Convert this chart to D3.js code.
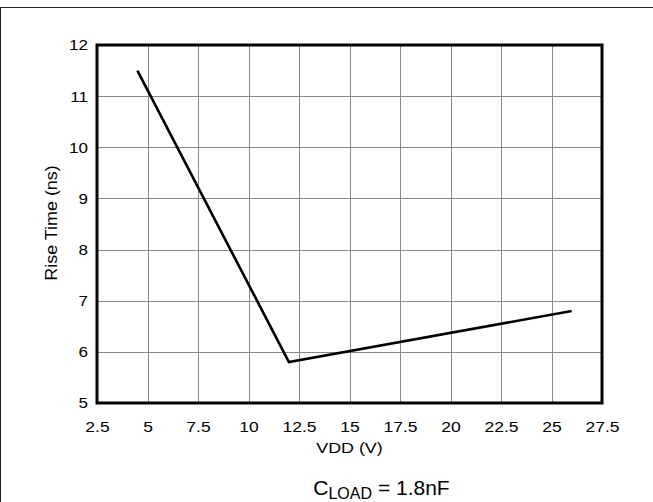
<!DOCTYPE html>
<html>
<head>
<meta charset="utf-8">
<script src="https://cdn.jsdelivr.net/npm/d3@7"></script>
<style>
  html, body { margin: 0; padding: 0; background: #fff; }
  svg { display: block; font-family: "Liberation Sans", Arial, sans-serif; }
</style>
</head>
<body>
<svg id="chart" width="653" height="502"></svg>
<script>
// Rise time versus supply voltage
const vdd = [4.5, 12, 26];
const riseTime = [11.5, 5.8, 6.8];
const xTicks = [2.5, 5, 7.5, 10, 12.5, 15, 17.5, 20, 22.5, 25, 27.5];
const yTicks = [5, 6, 7, 8, 9, 10, 11, 12];

const svg = d3.select("#chart");
const m = { left: 97, right: 602, top: 45, bottom: 403 };
const FONT = "Liberation Sans, Arial, sans-serif";

const x = d3.scaleLinear().domain([2.5, 27.5]).range([m.left, m.right]);
const y = d3.scaleLinear().domain([5, 12]).range([m.bottom, m.top]);

// widen labels a little, keeping glyph height
function widen(sel, k) {
  sel.each(function () {
    const w = this.getComputedTextLength();
    d3.select(this).attr("textLength", w * k).attr("lengthAdjust", "spacingAndGlyphs");
  });
}

// page frame
svg.append("line").attr("x1", 0).attr("x2", 653).attr("y1", 7.5).attr("y2", 7.5)
  .attr("stroke", "#222").attr("stroke-width", 1);
svg.append("line").attr("x1", 0.5).attr("x2", 0.5).attr("y1", 7).attr("y2", 502)
  .attr("stroke", "#222").attr("stroke-width", 1);

// grid
const grid = svg.append("g").attr("stroke", "#8a8a8a").attr("stroke-width", 1);
grid.selectAll(".vx").data(xTicks).join("line")
  .attr("x1", d => Math.round(x(d)) + 0.5).attr("x2", d => Math.round(x(d)) + 0.5)
  .attr("y1", m.top).attr("y2", m.bottom);
grid.selectAll(".hy").data(yTicks).join("line")
  .attr("y1", d => Math.round(y(d)) + 0.5).attr("y2", d => Math.round(y(d)) + 0.5)
  .attr("x1", m.left).attr("x2", m.right);

// axes (labels only)
const xAxis = svg.append("g").attr("transform", `translate(0,${m.bottom})`)
  .call(d3.axisBottom(x).tickValues(xTicks).tickSize(0).tickPadding(17.5).tickFormat(d3.format("")));
const yAxis = svg.append("g").attr("transform", `translate(${m.left},0)`)
  .call(d3.axisLeft(y).tickValues(yTicks).tickSize(0).tickPadding(9).tickFormat(d3.format("")));
[xAxis, yAxis].forEach(a => {
  a.select(".domain").remove();
  a.attr("font-size", 15.5).attr("font-family", FONT);
  a.selectAll("text").attr("fill", "#000");
});
widen(xAxis.selectAll("text"), 1.13);
widen(yAxis.selectAll("text"), 1.1);

// plot border
svg.append("rect").attr("x", m.left).attr("y", m.top)
  .attr("width", m.right - m.left).attr("height", m.bottom - m.top)
  .attr("fill", "none").attr("stroke", "#000").attr("stroke-width", 3);

// data line
svg.append("path")
  .datum(vdd.map((v, i) => [v, riseTime[i]]))
  .attr("fill", "none").attr("stroke", "#000").attr("stroke-width", 2.6)
  .attr("d", d3.line().x(d => x(d[0])).y(d => y(d[1])));

// axis titles
const xt = svg.append("text").attr("x", 349.5).attr("y", 453)
  .attr("text-anchor", "middle").attr("font-size", 15.5).text("VDD (V)");
widen(xt, 1.15);
const yt = svg.append("text").attr("transform", "translate(57,223) rotate(-90)")
  .attr("text-anchor", "middle").attr("font-size", 16).text("Rise Time (ns)");
widen(yt, 1.12);

// load condition
const cl = svg.append("text").attr("x", 381.5).attr("y", 495)
  .attr("text-anchor", "middle").attr("font-size", 21);
cl.append("tspan").text("C");
cl.append("tspan").attr("font-size", 16).attr("dy", 4).text("LOAD");
cl.append("tspan").attr("dy", -4).text(" = 1.8nF");
</script>
</body>
</html>
